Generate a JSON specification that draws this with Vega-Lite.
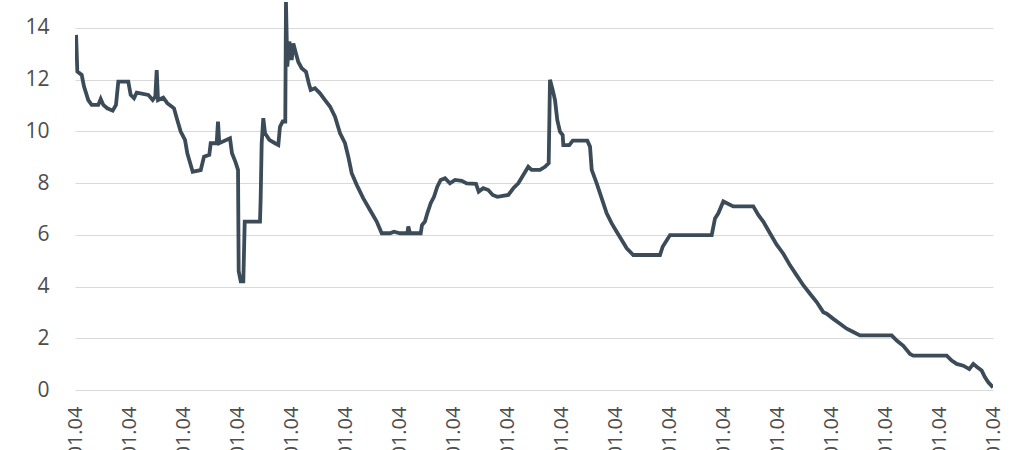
{
  "$schema": "https://vega.github.io/schema/vega-lite/v6.json",
  "autosize": "none",
  "width": 918,
  "height": 388,
  "padding": {"left": 75, "top": 2, "right": 31, "bottom": 60},
  "background": "white",
  "config": {"view": {"stroke": null}, "font": "Open Sans"},
  "data": {"values": [
    {"year": 2006.02, "value": 13.73},
    {"year": 2006.043, "value": 12.31},
    {"year": 2006.124, "value": 12.18},
    {"year": 2006.167, "value": 11.73},
    {"year": 2006.246, "value": 11.21},
    {"year": 2006.309, "value": 11.02},
    {"year": 2006.431, "value": 11.02},
    {"year": 2006.476, "value": 11.25},
    {"year": 2006.524, "value": 11.02},
    {"year": 2006.598, "value": 10.89},
    {"year": 2006.698, "value": 10.8},
    {"year": 2006.759, "value": 11.02},
    {"year": 2006.802, "value": 11.92},
    {"year": 2006.987, "value": 11.92},
    {"year": 2007.031, "value": 11.41},
    {"year": 2007.093, "value": 11.28},
    {"year": 2007.143, "value": 11.5},
    {"year": 2007.357, "value": 11.41},
    {"year": 2007.439, "value": 11.21},
    {"year": 2007.487, "value": 11.34},
    {"year": 2007.513, "value": 12.37},
    {"year": 2007.537, "value": 11.21},
    {"year": 2007.635, "value": 11.3},
    {"year": 2007.709, "value": 11.09},
    {"year": 2007.833, "value": 10.89},
    {"year": 2007.894, "value": 10.44},
    {"year": 2007.957, "value": 9.99},
    {"year": 2008.037, "value": 9.67},
    {"year": 2008.08, "value": 9.15},
    {"year": 2008.143, "value": 8.7},
    {"year": 2008.18, "value": 8.44},
    {"year": 2008.328, "value": 8.5},
    {"year": 2008.389, "value": 9.02},
    {"year": 2008.487, "value": 9.09},
    {"year": 2008.513, "value": 9.54},
    {"year": 2008.624, "value": 9.54},
    {"year": 2008.648, "value": 10.38},
    {"year": 2008.672, "value": 9.54},
    {"year": 2008.87, "value": 9.73},
    {"year": 2008.907, "value": 9.15},
    {"year": 2008.969, "value": 8.83},
    {"year": 2009.019, "value": 8.51},
    {"year": 2009.031, "value": 4.6},
    {"year": 2009.069, "value": 4.2},
    {"year": 2009.117, "value": 4.2},
    {"year": 2009.143, "value": 6.51},
    {"year": 2009.426, "value": 6.51},
    {"year": 2009.439, "value": 7.47},
    {"year": 2009.457, "value": 9.54},
    {"year": 2009.487, "value": 10.51},
    {"year": 2009.519, "value": 9.93},
    {"year": 2009.598, "value": 9.67},
    {"year": 2009.704, "value": 9.54},
    {"year": 2009.765, "value": 9.47},
    {"year": 2009.796, "value": 10.18},
    {"year": 2009.846, "value": 10.38},
    {"year": 2009.894, "value": 10.38},
    {"year": 2009.907, "value": 15.0},
    {"year": 2009.931, "value": 12.5},
    {"year": 2009.969, "value": 13.47},
    {"year": 2010.013, "value": 12.76},
    {"year": 2010.043, "value": 13.4},
    {"year": 2010.093, "value": 13.0},
    {"year": 2010.135, "value": 12.68},
    {"year": 2010.198, "value": 12.44},
    {"year": 2010.278, "value": 12.3},
    {"year": 2010.328, "value": 11.87},
    {"year": 2010.365, "value": 11.6},
    {"year": 2010.444, "value": 11.67},
    {"year": 2010.537, "value": 11.47},
    {"year": 2010.63, "value": 11.21},
    {"year": 2010.722, "value": 10.96},
    {"year": 2010.815, "value": 10.57},
    {"year": 2010.907, "value": 9.93},
    {"year": 2011.0, "value": 9.54},
    {"year": 2011.061, "value": 9.02},
    {"year": 2011.124, "value": 8.38},
    {"year": 2011.217, "value": 7.93},
    {"year": 2011.339, "value": 7.41},
    {"year": 2011.463, "value": 6.96},
    {"year": 2011.587, "value": 6.51},
    {"year": 2011.68, "value": 6.06},
    {"year": 2011.833, "value": 6.06},
    {"year": 2011.907, "value": 6.12},
    {"year": 2012.019, "value": 6.06},
    {"year": 2012.154, "value": 6.06},
    {"year": 2012.172, "value": 6.32},
    {"year": 2012.204, "value": 6.06},
    {"year": 2012.402, "value": 6.06},
    {"year": 2012.426, "value": 6.38},
    {"year": 2012.481, "value": 6.51},
    {"year": 2012.524, "value": 6.83},
    {"year": 2012.587, "value": 7.22},
    {"year": 2012.648, "value": 7.47},
    {"year": 2012.709, "value": 7.86},
    {"year": 2012.772, "value": 8.12},
    {"year": 2012.852, "value": 8.19},
    {"year": 2012.944, "value": 7.99},
    {"year": 2013.037, "value": 8.12},
    {"year": 2013.161, "value": 8.09},
    {"year": 2013.254, "value": 7.99},
    {"year": 2013.426, "value": 7.97},
    {"year": 2013.476, "value": 7.67},
    {"year": 2013.561, "value": 7.8},
    {"year": 2013.654, "value": 7.73},
    {"year": 2013.735, "value": 7.54},
    {"year": 2013.82, "value": 7.47},
    {"year": 2014.024, "value": 7.54},
    {"year": 2014.117, "value": 7.8},
    {"year": 2014.209, "value": 7.99},
    {"year": 2014.302, "value": 8.31},
    {"year": 2014.394, "value": 8.63},
    {"year": 2014.457, "value": 8.51},
    {"year": 2014.611, "value": 8.51},
    {"year": 2014.704, "value": 8.63},
    {"year": 2014.772, "value": 8.77},
    {"year": 2014.796, "value": 11.99},
    {"year": 2014.846, "value": 11.6},
    {"year": 2014.889, "value": 11.21},
    {"year": 2014.931, "value": 10.44},
    {"year": 2014.981, "value": 9.99},
    {"year": 2015.031, "value": 9.86},
    {"year": 2015.043, "value": 9.47},
    {"year": 2015.154, "value": 9.47},
    {"year": 2015.217, "value": 9.64},
    {"year": 2015.487, "value": 9.64},
    {"year": 2015.537, "value": 9.41},
    {"year": 2015.569, "value": 8.51},
    {"year": 2015.661, "value": 7.99},
    {"year": 2015.754, "value": 7.41},
    {"year": 2015.846, "value": 6.83},
    {"year": 2015.939, "value": 6.44},
    {"year": 2016.031, "value": 6.12},
    {"year": 2016.124, "value": 5.8},
    {"year": 2016.217, "value": 5.48},
    {"year": 2016.339, "value": 5.22},
    {"year": 2016.833, "value": 5.22},
    {"year": 2016.883, "value": 5.54},
    {"year": 2017.019, "value": 5.99},
    {"year": 2017.791, "value": 5.99},
    {"year": 2017.852, "value": 6.63},
    {"year": 2017.913, "value": 6.83},
    {"year": 2018.006, "value": 7.29},
    {"year": 2018.191, "value": 7.1},
    {"year": 2018.561, "value": 7.1},
    {"year": 2018.654, "value": 6.77},
    {"year": 2018.746, "value": 6.51},
    {"year": 2018.87, "value": 6.06},
    {"year": 2018.994, "value": 5.62},
    {"year": 2019.117, "value": 5.27},
    {"year": 2019.241, "value": 4.82},
    {"year": 2019.365, "value": 4.43},
    {"year": 2019.487, "value": 4.05},
    {"year": 2019.611, "value": 3.72},
    {"year": 2019.735, "value": 3.4},
    {"year": 2019.857, "value": 3.01},
    {"year": 2019.92, "value": 2.95},
    {"year": 2020.043, "value": 2.75},
    {"year": 2020.167, "value": 2.56},
    {"year": 2020.291, "value": 2.37},
    {"year": 2020.413, "value": 2.24},
    {"year": 2020.537, "value": 2.11},
    {"year": 2021.124, "value": 2.11},
    {"year": 2021.217, "value": 1.91},
    {"year": 2021.339, "value": 1.71},
    {"year": 2021.463, "value": 1.39},
    {"year": 2021.524, "value": 1.33},
    {"year": 2022.143, "value": 1.33},
    {"year": 2022.235, "value": 1.14},
    {"year": 2022.328, "value": 1.01},
    {"year": 2022.45, "value": 0.94},
    {"year": 2022.561, "value": 0.81},
    {"year": 2022.635, "value": 1.01},
    {"year": 2022.709, "value": 0.88},
    {"year": 2022.79, "value": 0.75},
    {"year": 2022.852, "value": 0.49},
    {"year": 2022.913, "value": 0.3},
    {"year": 2023.0, "value": 0.1}
  ]},
  "mark": {"type": "line", "color": "#3b4b58", "strokeWidth": 3.8, "strokeJoin": "miter", "clip": true},
  "encoding": {
    "x": {
      "field": "year", "type": "quantitative",
      "scale": {"domain": [2006, 2023], "nice": false, "zero": false},
      "axis": {
        "title": null, "grid": false, "domain": false, "ticks": false,
        "values": [2006, 2007, 2008, 2009, 2010, 2011, 2012, 2013, 2014, 2015, 2016, 2017, 2018, 2019, 2020, 2021, 2022, 2023],
        "labelExpr": "datum.value + '.01.04'",
        "labelAngle": 270, "labelPadding": 16, "labelFontSize": 20,
        "labelColor": "#4d4d4d", "labelFont": "Open Sans", "labelOverlap": false, "labelFlush": false, "labelBound": false
      }
    },
    "y": {
      "field": "value", "type": "quantitative",
      "scale": {"domain": [0, 15], "nice": false, "zero": true},
      "axis": {
        "title": null, "domain": false, "ticks": false,
        "values": [0, 2, 4, 6, 8, 10, 12, 14],
        "grid": true, "gridColor": "#d9d9d9", "gridWidth": 1,
        "labelPadding": 26, "labelFontSize": 21, "labelColor": "#4d4d4d", "labelFont": "Open Sans"
      }
    }
  }
}
